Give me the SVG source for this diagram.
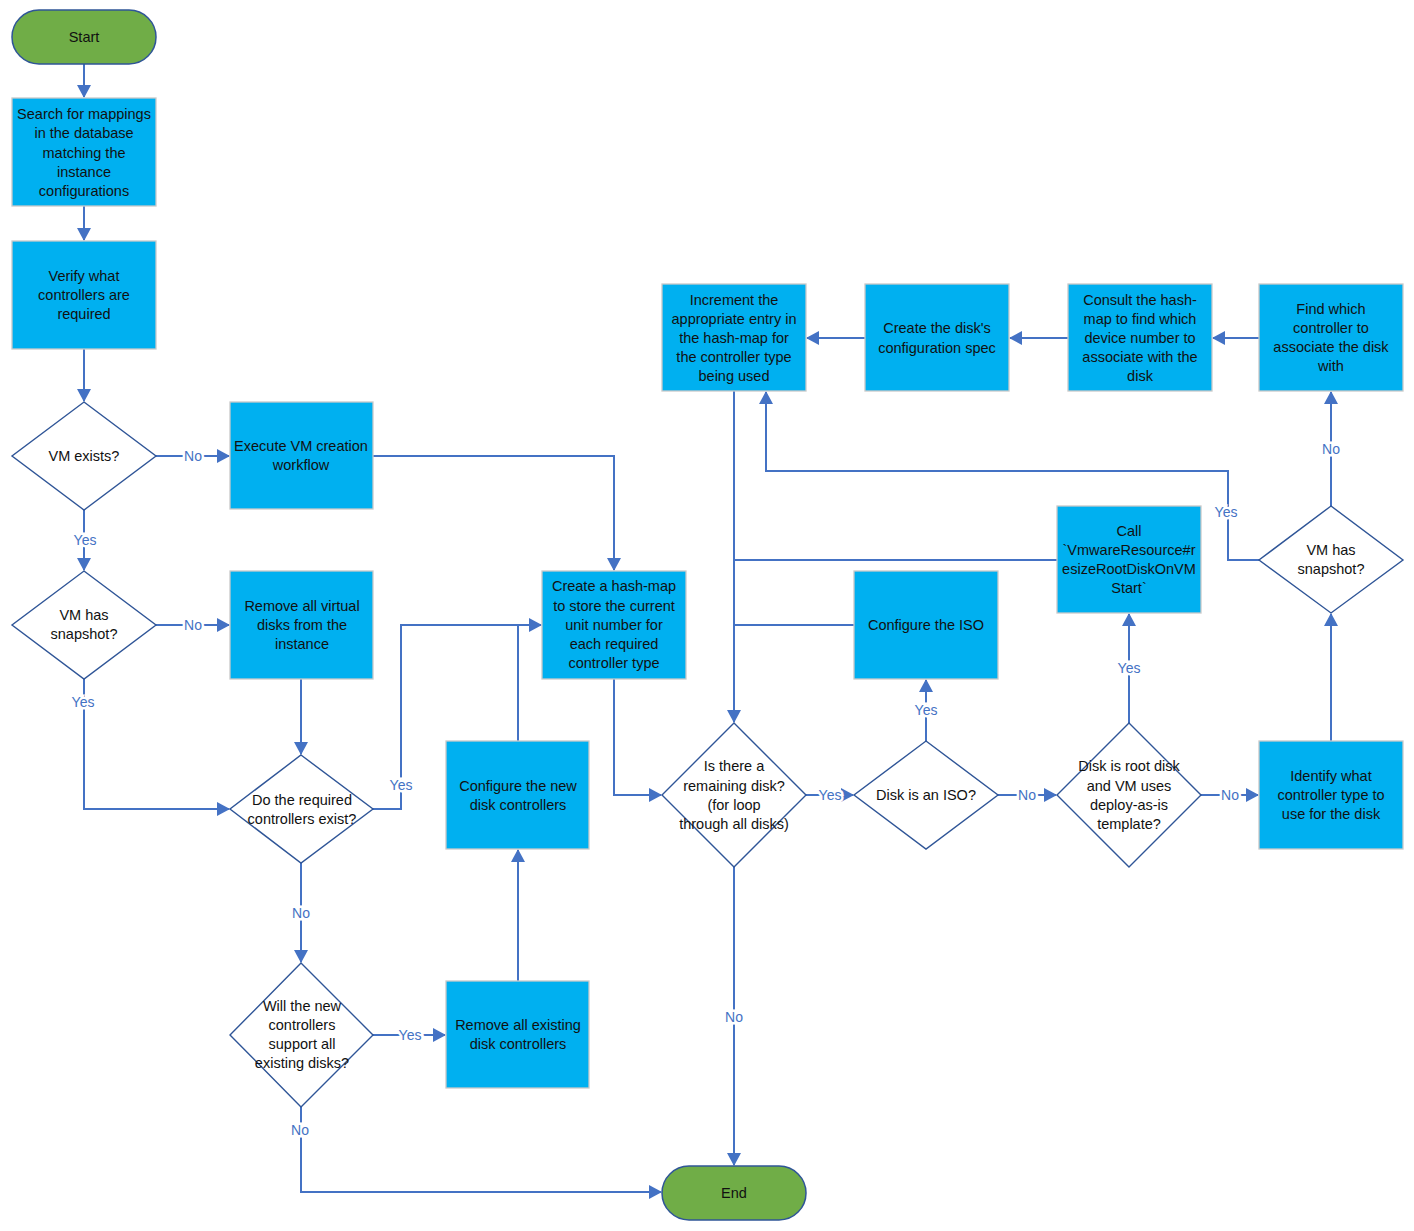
<svg xmlns="http://www.w3.org/2000/svg" width="1414" height="1231" viewBox="0 0 1414 1231">
<style>
.box{fill:#00B0F0;stroke:#C9C9C9;stroke-width:1.3}
.term{fill:#70AD47;stroke:#2F5597;stroke-width:1.5}
.dia{fill:#FFFFFF;stroke:#2F5597;stroke-width:1.4}
.t{font-family:"Liberation Sans",Arial,sans-serif;font-size:14.5px;fill:#111;text-anchor:middle;dominant-baseline:central}
.c{fill:none;stroke:#4472C4;stroke-width:2}
.a{marker-end:url(#ah)}
.lb{font-family:"Liberation Sans",Arial,sans-serif;font-size:14px;fill:#4472C4;text-anchor:middle;dominant-baseline:central;stroke:#FFFFFF;stroke-width:5;paint-order:stroke}
</style>
<defs>
<marker id="ah" markerUnits="userSpaceOnUse" markerWidth="13" markerHeight="14" refX="12" refY="7" orient="auto">
<path d="M0,0 L13,7 L0,14 z" fill="#4472C4"/>
</marker>
</defs>
<rect width="1414" height="1231" fill="#FFFFFF"/>
<g id="connectors">
<path class="c a" d="M84,64 V97"/>
<path class="c a" d="M84,206 V240"/>
<path class="c a" d="M84,349 V401"/>
<path class="c a" d="M156,456 H229"/>
<path class="c a" d="M84,510 V570"/>
<path class="c a" d="M156,625 H229"/>
<path class="c a" d="M84,679 V809 H229"/>
<path class="c a" d="M301,679 V754"/>
<path class="c a" d="M373,809 H401 V625 H541"/>
<path class="c a" d="M301,863 V962"/>
<path class="c a" d="M373,1035 H445"/>
<path class="c a" d="M518,981 V850"/>
<path class="c" d="M518,741 V625"/>
<path class="c a" d="M301,1107 V1192 H661"/>
<path class="c a" d="M373,456 H614 V570"/>
<path class="c a" d="M614,679 V795 H661"/>
<path class="c a" d="M806,795 H853"/>
<path class="c a" d="M734,867 V1165"/>
<path class="c a" d="M926,741 V680"/>
<path class="c" d="M854,625 H734"/>
<path class="c a" d="M998,795 H1056"/>
<path class="c a" d="M1129,723 V614"/>
<path class="c" d="M1057,560 H734"/>
<path class="c a" d="M1201,795 H1258"/>
<path class="c a" d="M1331,741 V614"/>
<path class="c a" d="M1331,506 V392"/>
<path class="c a" d="M1259,560 H1228 V471 H766 V392"/>
<path class="c a" d="M1259,338 H1213"/>
<path class="c a" d="M1068,338 H1010"/>
<path class="c a" d="M865,338 H807"/>
<path class="c a" d="M734,391 V722"/>
<text class="lb" x="193" y="456">No</text>
<text class="lb" x="85" y="540">Yes</text>
<text class="lb" x="193" y="625">No</text>
<text class="lb" x="83" y="702">Yes</text>
<text class="lb" x="401" y="785">Yes</text>
<text class="lb" x="301" y="913">No</text>
<text class="lb" x="410" y="1035">Yes</text>
<text class="lb" x="300" y="1130">No</text>
<text class="lb" x="830" y="795">Yes</text>
<text class="lb" x="734" y="1017">No</text>
<text class="lb" x="926" y="710">Yes</text>
<text class="lb" x="1027" y="795">No</text>
<text class="lb" x="1129" y="668">Yes</text>
<text class="lb" x="1230" y="795">No</text>
<text class="lb" x="1331" y="449">No</text>
<text class="lb" x="1226" y="512">Yes</text>
</g>
<g id="start"><rect class="term" x="12" y="10" width="144" height="54" rx="27"/><text class="t" x="84" y="37">Start</text></g>
<g id="search"><rect class="box" x="12" y="98" width="144" height="108"/><text class="t" x="84" y="114">Search for mappings</text><text class="t" x="84" y="133">in the database</text><text class="t" x="84" y="153">matching the</text><text class="t" x="84" y="172">instance</text><text class="t" x="84" y="191">configurations</text></g>
<g id="verify"><rect class="box" x="12" y="241" width="144" height="108"/><text class="t" x="84" y="276">Verify what</text><text class="t" x="84" y="295">controllers are</text><text class="t" x="84" y="314">required</text></g>
<g id="vmexists"><polygon class="dia" points="84,402 156,456 84,510 12,456"/><text class="t" x="84" y="456">VM exists?</text></g>
<g id="execute"><rect class="box" x="230" y="402" width="143" height="107"/><text class="t" x="301" y="446">Execute VM creation</text><text class="t" x="301" y="465">workflow</text></g>
<g id="snap1"><polygon class="dia" points="84,571 156,625 84,679 12,625"/><text class="t" x="84" y="615">VM has</text><text class="t" x="84" y="634">snapshot?</text></g>
<g id="removevirtual"><rect class="box" x="230" y="571" width="143" height="108"/><text class="t" x="302" y="606">Remove all virtual</text><text class="t" x="302" y="625">disks from the</text><text class="t" x="302" y="644">instance</text></g>
<g id="reqexist"><polygon class="dia" points="301,755 373,809 301,863 230,809"/><text class="t" x="302" y="800">Do the required</text><text class="t" x="302" y="819">controllers exist?</text></g>
<g id="willsupport"><polygon class="dia" points="301,963 373,1035 301,1107 230,1035"/><text class="t" x="302" y="1006">Will the new</text><text class="t" x="302" y="1025">controllers</text><text class="t" x="302" y="1044">support all</text><text class="t" x="302" y="1063">existing disks?</text></g>
<g id="removeexisting"><rect class="box" x="446" y="981" width="143" height="107"/><text class="t" x="518" y="1025">Remove all existing</text><text class="t" x="518" y="1044">disk controllers</text></g>
<g id="configurenew"><rect class="box" x="446" y="741" width="143" height="108"/><text class="t" x="518" y="786">Configure the new</text><text class="t" x="518" y="805">disk controllers</text></g>
<g id="hashmap"><rect class="box" x="542" y="571" width="144" height="108"/><text class="t" x="614" y="586">Create a hash-map</text><text class="t" x="614" y="606">to store the current</text><text class="t" x="614" y="625">unit number for</text><text class="t" x="614" y="644">each required</text><text class="t" x="614" y="663">controller type</text></g>
<g id="remaining"><polygon class="dia" points="734,723 806,795 734,867 662,795"/><text class="t" x="734" y="766">Is there a</text><text class="t" x="734" y="786">remaining disk?</text><text class="t" x="734" y="805">(for loop</text><text class="t" x="734" y="824">through all disks)</text></g>
<g id="end"><rect class="term" x="662" y="1166" width="144" height="54" rx="27"/><text class="t" x="734" y="1193">End</text></g>
<g id="iso"><polygon class="dia" points="926,741 998,795 926,849 854,795"/><text class="t" x="926" y="795">Disk is an ISO?</text></g>
<g id="configiso"><rect class="box" x="854" y="571" width="144" height="108"/><text class="t" x="926" y="625">Configure the ISO</text></g>
<g id="rootdisk"><polygon class="dia" points="1129,723 1201,795 1129,867 1057,795"/><text class="t" x="1129" y="766">Disk is root disk</text><text class="t" x="1129" y="786">and VM uses</text><text class="t" x="1129" y="805">deploy-as-is</text><text class="t" x="1129" y="824">template?</text></g>
<g id="call"><rect class="box" x="1057" y="506" width="144" height="107"/><text class="t" x="1129" y="531">Call</text><text class="t" x="1129" y="550">`VmwareResource#r</text><text class="t" x="1129" y="569">esizeRootDiskOnVM</text><text class="t" x="1129" y="588">Start`</text></g>
<g id="identify"><rect class="box" x="1259" y="741" width="144" height="108"/><text class="t" x="1331" y="776">Identify what</text><text class="t" x="1331" y="795">controller type to</text><text class="t" x="1331" y="814">use for the disk</text></g>
<g id="snap2"><polygon class="dia" points="1331,506 1403,560 1331,613 1259,560"/><text class="t" x="1331" y="550">VM has</text><text class="t" x="1331" y="569">snapshot?</text></g>
<g id="find"><rect class="box" x="1259" y="284" width="144" height="107"/><text class="t" x="1331" y="309">Find which</text><text class="t" x="1331" y="328">controller to</text><text class="t" x="1331" y="347">associate the disk</text><text class="t" x="1331" y="366">with</text></g>
<g id="consult"><rect class="box" x="1068" y="284" width="144" height="107"/><text class="t" x="1140" y="300">Consult the hash-</text><text class="t" x="1140" y="319">map to find which</text><text class="t" x="1140" y="338">device number to</text><text class="t" x="1140" y="357">associate with the</text><text class="t" x="1140" y="376">disk</text></g>
<g id="createspec"><rect class="box" x="865" y="284" width="144" height="107"/><text class="t" x="937" y="328">Create the disk's</text><text class="t" x="937" y="348">configuration spec</text></g>
<g id="increment"><rect class="box" x="662" y="284" width="144" height="107"/><text class="t" x="734" y="300">Increment the</text><text class="t" x="734" y="319">appropriate entry in</text><text class="t" x="734" y="338">the hash-map for</text><text class="t" x="734" y="357">the controller type</text><text class="t" x="734" y="376">being used</text></g>
</svg>
